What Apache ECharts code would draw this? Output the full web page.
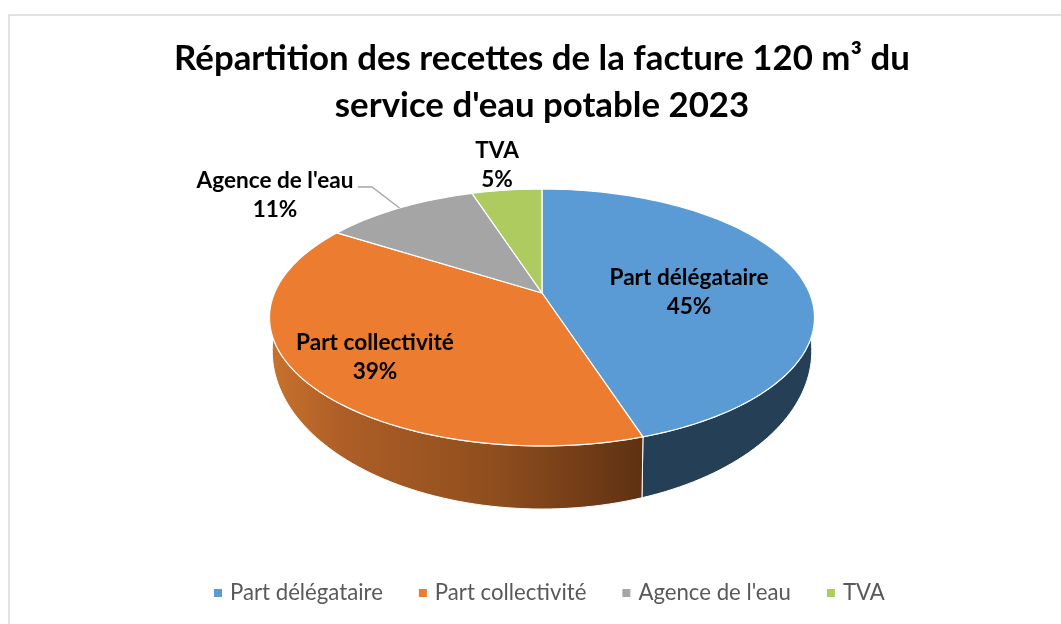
<!DOCTYPE html>
<html>
<head>
<meta charset="utf-8">
<style>
html, body { margin: 0; padding: 0; background: #fff; }
#main { width: 1061px; height: 624px; }
</style>
<script src="https://cdn.jsdelivr.net/npm/echarts@6/dist/echarts.min.js"></script>
</head>
<body>
<div id="main"></div>
<script>
// valeurs
const categories = ['Part délégataire', 'Part collectivité', "Agence de l'eau", 'TVA'];
const values = [45, 39, 11, 5];
const chartTitle = "Répartition des recettes de la facture 120 m³ du\nservice d'eau potable 2023";

const colors = ['#5B9BD5', '#EB7C30', '#A5A5A5', '#ADCB5F'];
const labelPos = [[689, 292], [375, 357], [275, 195], [497, 165]];

// camembert en perspective : le centre du disque n'est pas le centre de l'ellipse
const cx = 542, apexY = 293, persp = 0.1907, ax = 267.5, ay = 123.8;
const total = values.reduce((a, b) => a + b, 0);

function topPoint(deg) {
  const t = deg * Math.PI / 180;
  const u = Math.sin(t), v = Math.cos(t), d = 1 + persp * v;
  return [cx + ax * u / d, apexY - ay * v / d];
}
function bottomPoint(deg) {
  const p = topPoint(deg);
  return [cx + 0.99 * (p[0] - cx), 351 + 1.23 * (p[1] - 317.5)];
}
function arc(fn, from, to) {
  const pts = [];
  const n = Math.max(2, Math.ceil(Math.abs(to - from) / 1.5));
  for (let i = 0; i <= n; i++) pts.push(fn(from + (to - from) * i / n));
  return pts;
}

const wallFill = [
  '#243F56',
  new echarts.graphic.LinearGradient(0, 0, 1, 0, [
    { offset: 0, color: '#C9722E' },
    { offset: 0.2, color: '#AD5E26' },
    { offset: 0.6, color: '#8F4E1E' },
    { offset: 1, color: '#5F3112' }
  ])
];

function renderSlice(idx) {
  return function (params, api) {
    const value = api.value(0);
    let before = 0;
    for (let i = 0; i < idx; i++) before += values[i];
    const start = before / total * 360;
    const end = (before + value) / total * 360;
    const children = [];

    // paroi : seulement la moitié avant est visible
    const wallFrom = Math.max(start, 90), wallTo = Math.min(end, 270);
    if (wallFrom < wallTo) {
      children.push({
        type: 'polygon',
        z2: 1,
        shape: { points: arc(topPoint, wallFrom, wallTo).concat(arc(bottomPoint, wallTo, wallFrom)) },
        style: { fill: wallFill[idx], stroke: '#fff', lineWidth: 1 }
      });
    }

    children.push({
      type: 'polygon',
      z2: 2,
      shape: { points: [[cx, apexY]].concat(arc(topPoint, start, end)) },
      style: { fill: colors[idx], stroke: '#fff', lineWidth: 1.2, lineJoin: 'round' }
    });

    // trait de rappel de l'agence de l'eau
    if (idx === 2) {
      const p = topPoint((start + end) / 2);
      children.push({
        type: 'polyline',
        z2: 3,
        shape: { points: [[358, 187], [372, 187], p] },
        style: { fill: null, stroke: '#A5A5A5', lineWidth: 1.3 }
      });
    }

    children.push({
      type: 'text',
      z2: 4,
      x: labelPos[idx][0],
      y: labelPos[idx][1],
      style: {
        text: categories[idx] + '\n' + value + '%',
        fontFamily: 'Lato',
        fontWeight: 'bold',
        fontSize: 22.6,
        lineHeight: 29,
        fill: '#000',
        align: 'center',
        verticalAlign: 'middle'
      }
    });
    return { type: 'group', children: children };
  };
}

const chart = echarts.init(document.getElementById('main'), null, { renderer: 'canvas' });
chart.setOption({
  backgroundColor: '#fff',
  animation: false,
  title: {
    text: chartTitle,
    left: 537,
    top: 30,
    textAlign: 'center',
    textStyle: { fontFamily: 'Lato', fontWeight: 'bold', fontSize: 34.8, lineHeight: 47, color: '#000' }
  },
  legend: {
    left: 209,
    top: 577,
    icon: 'rect',
    itemWidth: 8,
    itemHeight: 8,
    itemGap: 36,
    textStyle: { fontFamily: 'Lato', fontSize: 22.2, color: '#595959', padding: [0, 0, 0, 3] },
    data: categories
  },
  graphic: [
    {
      type: 'polyline',
      silent: true,
      shape: { points: [[9, 624], [9, 15], [1061, 15]] },
      style: { fill: null, stroke: '#D9D9D9', lineWidth: 1.5 }
    }
  ],
  series: categories.map((name, i) => ({
    name: name,
    type: 'custom',
    coordinateSystem: 'none',
    itemStyle: { color: colors[i] },
    renderItem: renderSlice(i),
    data: [[values[i]]]
  }))
});
</script>
</body>
</html>
